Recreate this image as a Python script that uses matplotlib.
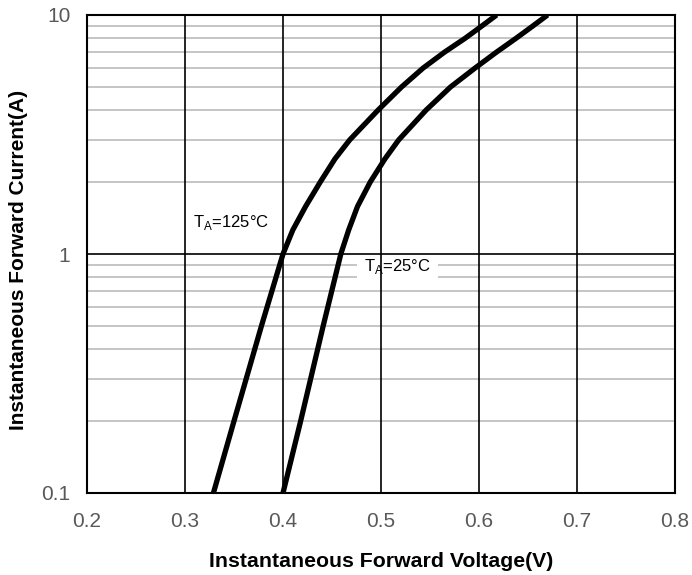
import numpy as np
import matplotlib
matplotlib.use("Agg")
import matplotlib.pyplot as plt
from matplotlib.ticker import LogLocator, NullFormatter

current_125 = [0.1, 0.2, 0.5, 1.0, 1.26, 1.58, 2.0, 2.5, 3.0, 4.0, 5.0, 6.0, 7.0, 8.0, 9.0, 10.0]
voltage_125 = [0.329, 0.350, 0.378, 0.400, 0.410, 0.423, 0.438, 0.453, 0.468,
               0.497, 0.521, 0.543, 0.565, 0.586, 0.603, 0.618]

current_25 = [0.1, 0.2, 0.5, 1.0, 1.26, 1.58, 2.0, 2.5, 3.0, 4.0, 5.0, 6.0, 7.0, 8.0, 9.0, 10.0]
voltage_25 = [0.400, 0.418, 0.441, 0.459, 0.467, 0.476, 0.489, 0.504, 0.518,
              0.546, 0.571, 0.596, 0.618, 0.638, 0.655, 0.670]

x_ticks = [0.2, 0.3, 0.4, 0.5, 0.6, 0.7, 0.8]
x_tick_labels = ["0.2", "0.3", "0.4", "0.5", "0.6", "0.7", "0.8"]
y_ticks = [0.1, 1, 10]
y_tick_labels = ["0.1", "1", "10"]

label_font = ["Liberation Sans", "DejaVu Sans"]

fig = plt.figure(figsize=(6.92, 5.75), dpi=100)
ax = fig.add_axes([87 / 692, 1 - 493 / 575, 588 / 692, 478 / 575])

ax.set_yscale("log")
ax.set_xlim(0.2, 0.8)
ax.set_ylim(0.1, 10)

# light grey minor grid, black major grid on top
ax.yaxis.set_minor_locator(LogLocator(base=10, subs=range(2, 10)))
ax.yaxis.set_minor_formatter(NullFormatter())
ax.set_axisbelow(True)
ax.grid(which="minor", axis="y", color="#c0c0c0", linewidth=1.3)
for v in x_ticks[1:-1]:
    ax.axvline(v, color="black", linewidth=1.2, zorder=2)
ax.axhline(1, color="black", linewidth=1.2, zorder=2)

ax.plot(voltage_125, current_125, color="black", linewidth=3.8,
        solid_joinstyle="round", solid_capstyle="butt", zorder=3)
ax.plot(voltage_25, current_25, color="black", linewidth=3.8,
        solid_joinstyle="round", solid_capstyle="butt", zorder=3)

ax.text(0.308, 1.36, r"T$_\mathregular{A}$=125°C", fontsize=12, family=label_font,
        ha="left", va="center", zorder=1.5)
ax.text(0.483, 0.89, r"T$_\mathregular{A}$=25°C", fontsize=12, family=label_font,
        ha="left", va="center", zorder=1.5,
        bbox=dict(facecolor="white", edgecolor="none", pad=5))

ax.set_xticks(x_ticks)
ax.set_xticklabels(x_tick_labels)
ax.set_yticks(y_ticks)
ax.set_yticklabels(y_tick_labels)
ax.tick_params(which="both", length=0)
ax.tick_params(axis="x", pad=14)
ax.tick_params(axis="y", pad=12)
for lab in ax.get_xticklabels() + ax.get_yticklabels():
    lab.set_family(label_font)
    lab.set_fontsize(15)
    lab.set_color("#595959")

for s in ax.spines.values():
    s.set_color("black")
    s.set_linewidth(1.5)
    s.set_zorder(4)

ax.set_xlabel("Instantaneous Forward Voltage(V)", fontsize=15.3, fontweight="bold",
              family=label_font)
ax.set_ylabel("Instantaneous Forward Current(A)", fontsize=15, fontweight="bold",
              family=label_font)
ax.xaxis.label.set_va("center")
ax.yaxis.label.set_va("center")
ax.xaxis.set_label_coords(0.5, -0.144)
ax.yaxis.set_label_coords(-0.117, 0.487)

fig.savefig("out.png", dpi=100)
